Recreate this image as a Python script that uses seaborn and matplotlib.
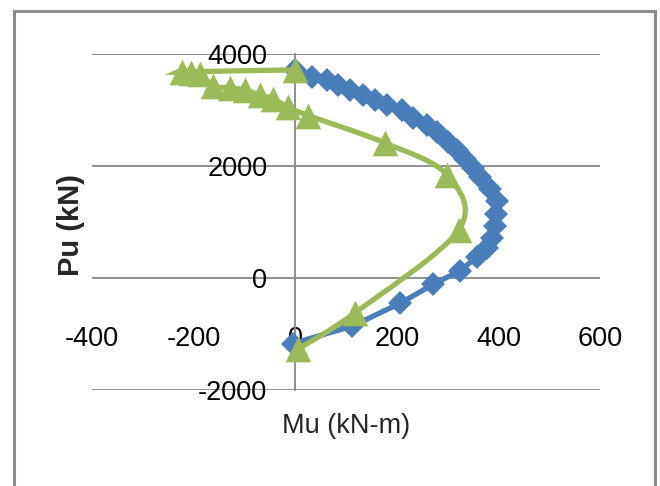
# Interaction diagram (Pu vs Mu), two sections compared.
import numpy as np
import matplotlib
matplotlib.use("Agg")
import matplotlib.pyplot as plt
from matplotlib.path import Path
from matplotlib.patches import PathPatch, Rectangle
import seaborn as sns

# ── Data ─────────────────────────────────────────────────────────────────────
mu_blue = [0, 33, 63, 85, 108, 134, 157, 181, 211, 232, 260, 280, 301, 318,
           335, 350, 364, 384, 398, 396, 394, 388, 378, 358, 325, 272, 207,
           112, -5]
pu_blue = [3720, 3590, 3537, 3447, 3357, 3267, 3178, 3088, 2998, 2855, 2729,
           2603, 2424, 2290, 2130, 1970, 1795, 1598, 1382, 1149, 934, 718,
           539, 380, 130, -110, -450, -860, -1170]

mu_green = [0, -222, -205, -188, -161, -128, -98, -69, -43, -14, 26, 177,
            299, 322, 118, 5]
pu_green = [3716, 3680, 3660, 3640, 3430, 3395, 3357, 3267, 3200, 3050,
            2900, 2410, 1840, 860, -620, -1270]

x_ticks = [-400, -200, 0, 200, 400, 600]
y_ticks = [-2000, 0, 2000, 4000]

BLUE = "#4a7ebb"
GREEN = "#9bbb59"
GRID = "#878787"


def smooth_path(xs, ys):
    """Excel-like smoothed line: Catmull-Rom segments as cubic Beziers."""
    pts = np.column_stack([xs, ys]).astype(float)
    n = len(pts)
    verts = [pts[0]]
    codes = [Path.MOVETO]
    for i in range(n - 1):
        p0 = pts[max(i - 1, 0)]
        p1 = pts[i]
        p2 = pts[i + 1]
        p3 = pts[min(i + 2, n - 1)]
        verts += [p1 + (p2 - p0) / 6, p2 - (p3 - p1) / 6, p2]
        codes += [Path.CURVE4] * 3
    return Path(verts, codes)


sns.set_style("white")
plt.rcParams["font.family"] = ["Liberation Sans", "DejaVu Sans"]
plt.rcParams["axes.unicode_minus"] = False

fig = plt.figure(figsize=(6.6, 4.86), dpi=100)
ax = fig.add_axes([92 / 660, 1 - 390 / 486, 508 / 660, 336 / 486])

# blue series: straight segments + diamonds
sns.lineplot(x=mu_blue, y=pu_blue, sort=False, estimator=None, ax=ax,
             color=BLUE, linewidth=3.8, marker="D", markersize=12.5,
             markeredgewidth=0, zorder=3)

# green series: smoothed line + triangles
ax.add_patch(PathPatch(smooth_path(mu_green, pu_green), fill=False,
                       edgecolor=GREEN, linewidth=3.8, zorder=4))
sns.scatterplot(x=mu_green, y=pu_green, ax=ax, marker="^", s=18.5 ** 2,
                color=GREEN, linewidth=0, zorder=5)

ax.set_xlim(-400, 600)
ax.set_ylim(-2000, 4000)
ax.set_xticks(x_ticks)
ax.set_yticks(y_ticks)

ax.yaxis.grid(True, color=GRID, linewidth=1.3)
ax.xaxis.grid(False)
for line in ax.get_ygridlines():
    line.set_clip_on(False)

for side in ["top", "right"]:
    ax.spines[side].set_visible(False)
ax.spines["left"].set_position(("data", 0))
ax.spines["left"].set_color(GRID)
ax.spines["left"].set_linewidth(1.3)
ax.spines["bottom"].set_position(("data", -850))
ax.spines["bottom"].set_visible(False)

ax.tick_params(axis="both", length=0, labelsize=19.5, colors="black")
ax.tick_params(axis="y", pad=20)
ax.tick_params(axis="x", pad=0)

ax.set_xlabel("Mu (kN-m)", fontsize=19.5)
ax.xaxis.set_label_coords(0.5, -0.108)
ax.xaxis.label.set_va("center")
ax.set_ylabel("Pu (kN)", fontsize=21, fontweight="bold")
ax.yaxis.set_label_coords((71 - 92) / 508, 0.49)
ax.yaxis.label.set_va("center")

# chart-area border
fig.patches.append(Rectangle((14 / 660, -0.05), (655 - 14) / 660,
                             1 - 11 / 486 + 0.05, transform=fig.transFigure,
                             fill=False, edgecolor="#8c8c8c", linewidth=2.2))

fig.savefig("out.png", dpi=100)
